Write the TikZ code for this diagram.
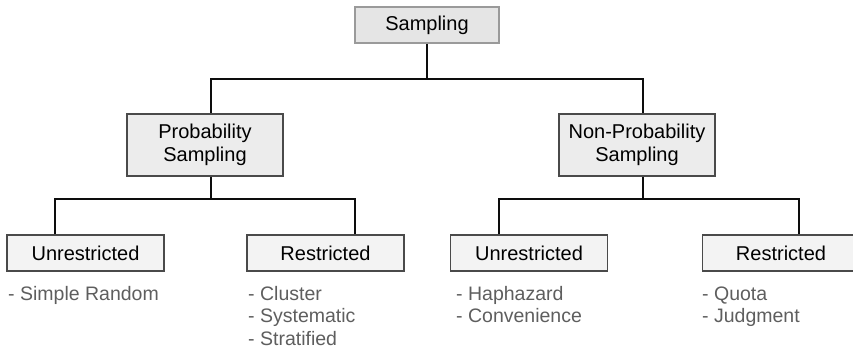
\documentclass[tikz,border=0pt]{standalone}
\usepackage{fontspec}
\setmainfont{Liberation Sans}
\usetikzlibrary{calc}
\definecolor{rootfill}{HTML}{E5E5E5}
\definecolor{rootedge}{HTML}{9A9A9A}
\definecolor{midfill}{HTML}{ECECEC}
\definecolor{leaffill}{HTML}{F3F3F3}
\definecolor{boxedge}{HTML}{4A4A4A}
\definecolor{itemtext}{HTML}{5E5E5E}
\tikzset{
  box/.style={rectangle, draw=boxedge, line width=1.8pt, inner sep=0pt,
    font=\fontsize{20}{23}\selectfont, align=center, text=black},
  rootbox/.style={box, draw=rootedge, fill=rootfill, minimum width=144pt, minimum height=36pt},
  midbox/.style={box, fill=midfill, minimum width=156pt, minimum height=62pt},
  leafbox/.style={box, fill=leaffill, minimum width=157pt, minimum height=36pt},
  % lists are placed by the baseline of their last line
  items/.style={anchor=base west, inner sep=0pt, align=left, text=itemtext,
    font=\fontsize{19.5}{22.5}\selectfont},
  link/.style={draw=black!95, line width=1.8pt}
}
\begin{document}
\begin{tikzpicture}[x=1pt,y=-1pt]
\useasboundingbox (0,0) rectangle (853,349);
\begin{scope}
\clip (0,0) rectangle (853,349);

% boxes
\node[rootbox] (samp) at (427,25) {Sampling};
\node[midbox] (prob) at (205,145) {Probability\\Sampling};
\node[midbox] (nonprob) at (637,145) {Non-Probability\\Sampling};
\node[leafbox] (u1) at (85.5,253) {Unrestricted};
\node[leafbox] (r1) at (325.5,253) {Restricted};
\node[leafbox] (u2) at (529,253) {Unrestricted};
\node[leafbox] (r2) at (781,253) {Restricted};

% branch points
\coordinate (j0) at (427,79);
\coordinate (j1) at (211,199);
\coordinate (j2) at (643,199);

% connectors
\draw[link] (samp.south) -- (j0);
\draw[link] ($(prob.north)+(6,0)$) |- (j0) -| ($(nonprob.north)+(6,0)$);
\draw[link] ($(prob.south)+(6,0)$) -- (j1);
\draw[link] ($(u1.north)+(-30.5,0)$) |- (j1) -| ($(r1.north)+(29.5,0)$);
\draw[link] ($(nonprob.south)+(6,0)$) -- (j2);
\draw[link] ($(u2.north)+(-30,0)$) |- (j2) -| ($(r2.north)+(18,0)$);

% item lists
\node[items] (l1) at (8,300) {- Simple Random};
\node[items] (l2) at (248,345) {- Cluster\\- Systematic\\- Stratified};
\node[items] (l3) at (456,322.5) {- Haphazard\\- Convenience};
\node[items] (l4) at (702,322.5) {- Quota\\- Judgment};
\end{scope}
\end{tikzpicture}
\end{document}
